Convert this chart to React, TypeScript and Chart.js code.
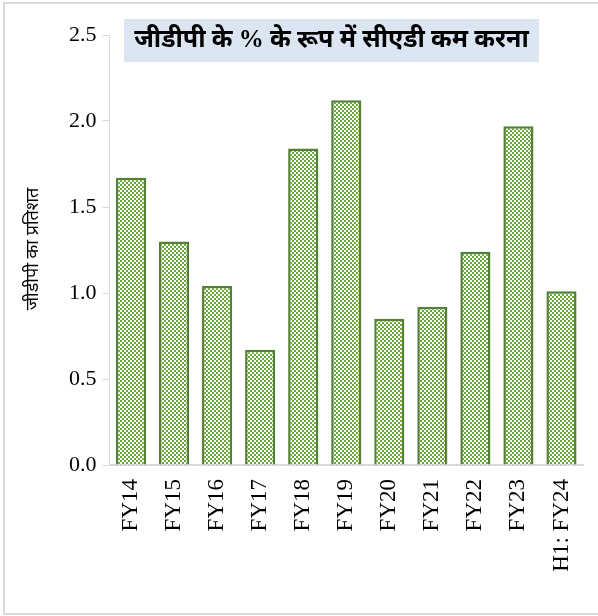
import React, { useEffect, useRef } from "react";
import { Chart, registerables } from "chart.js";

Chart.register(...registerables);

const categories = ["FY14", "FY15", "FY16", "FY17", "FY18", "FY19", "FY20", "FY21", "FY22", "FY23", "H1: FY24"];
const cadValues = [1.67, 1.3, 1.04, 0.67, 1.84, 2.12, 0.85, 0.92, 1.24, 1.97, 1.01];
const yTicks = [0, 0.5, 1.0, 1.5, 2.0, 2.5];
const titleText = "जीडीपी के % के रूप में सीएडी कम करना";
const yTitleText = "जीडीपी का प्रतिशत";

function makePattern(): CanvasPattern | string {
  const c = document.createElement("canvas");
  c.width = 4;
  c.height = 4;
  const ctx = c.getContext("2d");
  if (!ctx) return "#70ad47";
  ctx.fillStyle = "#ffffff";
  ctx.fillRect(0, 0, 4, 4);
  ctx.fillStyle = "#6aa83e";
  ctx.fillRect(0, 0, 2, 2);
  ctx.fillRect(2, 2, 2, 2);
  const p = ctx.createPattern(c, "repeat");
  return p || "#70ad47";
}

const decorPlugin = {
  id: "decor",
  beforeDraw(chart: any) {
    const ctx = chart.ctx as CanvasRenderingContext2D;
    ctx.save();
    ctx.fillStyle = "#ffffff";
    ctx.fillRect(0, 0, chart.width, chart.height);
    ctx.strokeStyle = "#d9d9d9";
    ctx.lineWidth = 2;
    ctx.strokeRect(4, 3, 610, 611);
    ctx.restore();
  },
  afterDraw(chart: any) {
    const ctx = chart.ctx as CanvasRenderingContext2D;
    ctx.save();
    // title box
    ctx.fillStyle = "#dce6f2";
    ctx.fillRect(124, 19, 415, 43);
    ctx.fillStyle = "#000000";
    ctx.font = "bold 25px 'Liberation Serif', 'Noto Sans', serif";
    ctx.textAlign = "center";
    ctx.textBaseline = "middle";
    ctx.fillText(titleText, 331.5, 41);
    // y-axis title
    ctx.translate(33, 249);
    ctx.rotate(-Math.PI / 2);
    ctx.font = "18px 'Noto Sans', sans-serif";
    ctx.textAlign = "center";
    ctx.textBaseline = "middle";
    ctx.fillText(yTitleText, 0, 0);
    ctx.restore();
  },
};

export default function App() {
  const ref = useRef<HTMLCanvasElement | null>(null);
  useEffect(() => {
    if (!ref.current) return;
    const pattern = makePattern();
    const chart = new Chart(ref.current, {
      type: "bar",
      data: {
        labels: categories,
        datasets: [
          {
            data: cadValues,
            backgroundColor: pattern as any,
            borderColor: "#548235",
            borderWidth: 2.5,
            barPercentage: 0.7,
            categoryPercentage: 1,
          },
        ],
      },
      options: {
        animation: false,
        responsive: false,
        maintainAspectRatio: false,
        layout: { padding: { left: 0, top: 35, right: 15, bottom: 0 } },
        plugins: {
          legend: { display: false },
          tooltip: { enabled: false },
          title: { display: false },
        },
        scales: {
          x: {
            grid: { display: false, drawTicks: false },
            border: { display: true, color: "#d9d9d9", width: 2 },
            ticks: {
              color: "#000000",
              font: { family: "'Liberation Serif', serif", size: 23 },
              minRotation: 90,
              maxRotation: 90,
              padding: 14,
              autoSkip: false,
            },
            afterFit(scale: any) {
              scale.height = 151;
              scale.paddingLeft = 0;
              scale.paddingRight = 0;
            },
          },
          y: {
            min: 0,
            max: 2.5,
            afterBuildTicks(scale: any) {
              scale.ticks = yTicks.map((v) => ({ value: v }));
            },
            grid: {
              display: true,
              drawOnChartArea: false,
              drawTicks: true,
              tickLength: 7,
              tickColor: "#d9d9d9",
              color: "#d9d9d9",
            },
            border: { display: true, color: "#d9d9d9", width: 1 },
            ticks: {
              color: "#000000",
              font: { family: "'Liberation Serif', serif", size: 22 },
              padding: 6,
              callback: (v: any) => Number(v).toFixed(1),
            },
            afterFit(scale: any) {
              scale.width = 109.5;
              scale.paddingTop = 0;
              scale.paddingBottom = 0;
            },
          },
        },
      },
      plugins: [decorPlugin],
    });
    return () => chart.destroy();
  }, []);
  return (
    <div style={{ position: "absolute", left: 0, top: 0, width: 598, height: 616 }}>
      <canvas ref={ref} width={598} height={616} style={{ display: "block" }} />
    </div>
  );
}
